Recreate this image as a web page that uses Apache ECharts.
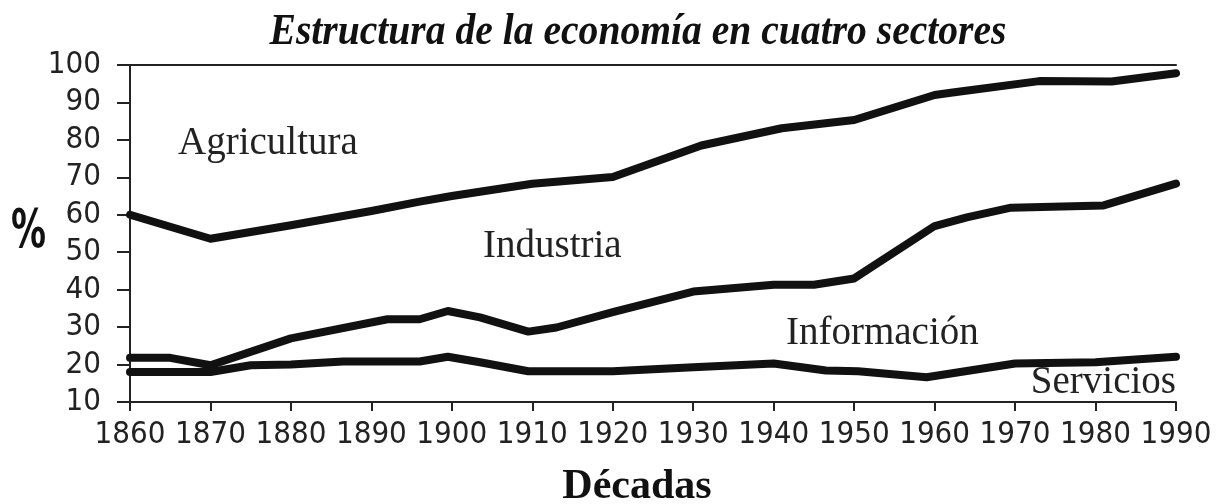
<!DOCTYPE html>
<html>
<head>
<meta charset="utf-8">
<script src="https://cdn.jsdelivr.net/npm/echarts@6/dist/echarts.min.js"></script>
<style>
  html, body { margin: 0; padding: 0; background: #fff; }
  #chart { width: 1220px; height: 504px; }
</style>
</head>
<body>
<div id="chart"></div>
<script>
// year ticks and y ticks
var yearTicks = [1860, 1870, 1880, 1890, 1900, 1910, 1920, 1930, 1940, 1950, 1960, 1970, 1980, 1990];
var pctTicks = [10, 20, 30, 40, 50, 60, 70, 80, 90, 100];

// boundary Agricultura / Industria
var agriLine = [
  [1860, 60], [1870, 53.6], [1880, 57.2], [1890, 61], [1896, 63.5], [1900, 65],
  [1910, 68.3], [1920, 70.1], [1931, 78.5], [1941, 83.1], [1950, 85.3],
  [1960, 92], [1962, 92.6], [1973, 95.7], [1982, 95.6], [1990, 97.8]
];
// boundary Industria / Información
var induLine = [
  [1860, 21.8], [1865, 21.8], [1870, 19.8], [1880, 27], [1892, 32.1], [1896, 32.1],
  [1899.5, 34.3], [1903.5, 32.6], [1909.5, 28.8], [1913, 29.9], [1920, 34],
  [1930, 39.5], [1940, 41.3], [1945, 41.3], [1950, 43], [1960, 57],
  [1964, 59.3], [1969.5, 61.9], [1981, 62.5], [1990, 68.3]
];
// boundary Información / Servicios
var infoLine = [
  [1860, 18], [1870, 18], [1875, 19.8], [1880, 20], [1886.5, 20.8], [1896, 20.8],
  [1899.5, 22.1], [1903.5, 20.6], [1909.5, 18.2], [1920, 18.2], [1930, 19.3],
  [1940, 20.3], [1946.5, 18.4], [1950.5, 18.2], [1959, 16.6], [1970, 20.3],
  [1980, 20.6], [1990, 22.1]
];

var chart = echarts.init(document.getElementById('chart'));
var tickFont = { fontFamily: 'DejaVu Sans Condensed', fontSize: 31, color: '#222' };
var lineStyle = { color: '#111', width: 8, cap: 'round', join: 'round' };
var serif = '"Liberation Serif"';

var option = {
  animation: false,
  backgroundColor: '#fff',
  grid: { left: 130, right: 44, top: 65, bottom: 102 },
  xAxis: [{
    type: 'value',
    min: yearTicks[0],
    max: yearTicks[yearTicks.length - 1],
    interval: 10,
    axisLine: { lineStyle: { color: '#222', width: 2 } },
    axisTick: { length: 9, lineStyle: { color: '#222', width: 2 } },
    splitLine: { show: false },
    axisLabel: Object.assign({ margin: 17, formatter: function (v) { return String(v); } }, tickFont)
  }, {
    type: 'value',
    position: 'top',
    min: yearTicks[0],
    max: yearTicks[yearTicks.length - 1],
    axisLine: { show: true, lineStyle: { color: '#222', width: 2 } },
    axisTick: { show: false },
    axisLabel: { show: false },
    splitLine: { show: false }
  }],
  yAxis: {
    type: 'value',
    min: pctTicks[0],
    max: pctTicks[pctTicks.length - 1],
    interval: 10,
    axisLine: { show: true, lineStyle: { color: '#222', width: 2 } },
    axisTick: { show: true, length: 13, lineStyle: { color: '#222', width: 2 } },
    splitLine: { show: false },
    axisLabel: Object.assign({ margin: 29 }, tickFont)
  },
  graphic: [
    // title, condensed a little to match the original face
    { type: 'text', x: 638, y: 33, scaleX: 0.9, style: { text: 'Estructura de la economía en cuatro sectores', font: 'italic bold 44px ' + serif, fill: '#111', align: 'center', verticalAlign: 'middle' } },
    { type: 'text', left: 11, top: 206, scaleX: 0.72, style: { text: '%', font: 'bold 54px "DejaVu Sans Condensed"', fill: '#111' } },
    { type: 'text', x: 637, y: 487, style: { text: 'Décadas', font: 'bold 42px ' + serif, fill: '#111', align: 'center', verticalAlign: 'middle' } },
    { type: 'text', left: 178, top: 124, style: { text: 'Agricultura', font: '39px ' + serif, fill: '#222' } },
    { type: 'text', left: 483, top: 227, style: { text: 'Industria', font: '39px ' + serif, fill: '#222' } },
    { type: 'text', left: 786, top: 314, style: { text: 'Información', font: '39px ' + serif, fill: '#222' } },
    { type: 'text', right: 44, top: 363, style: { text: 'Servicios', font: '39px ' + serif, fill: '#222' } }
  ],
  series: [
    { name: 'Agricultura', type: 'line', data: agriLine, showSymbol: false, lineStyle: lineStyle },
    { name: 'Industria', type: 'line', data: induLine, showSymbol: false, lineStyle: lineStyle },
    { name: 'Información', type: 'line', data: infoLine, showSymbol: false, lineStyle: lineStyle }
  ]
};
chart.setOption(option);
</script>
</body>
</html>
